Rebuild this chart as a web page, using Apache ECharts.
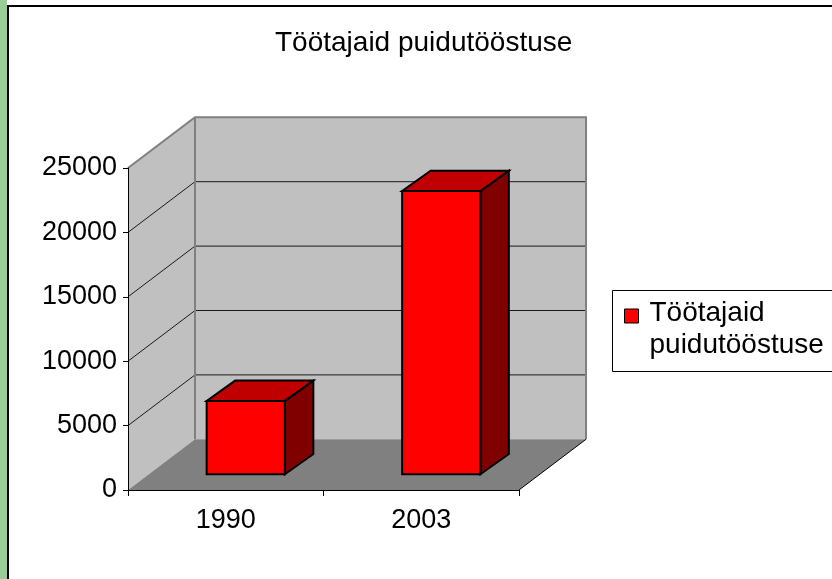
<!DOCTYPE html>
<html>
<head>
<meta charset="utf-8">
<script src="https://cdn.jsdelivr.net/npm/echarts@6/dist/echarts.min.js"></script>
<style>
html,body{margin:0;padding:0;background:#fff;}
#chart{width:832px;height:579px;}
</style>
</head>
<body>
<div id="chart"></div>
<script>
// ---- data ----
const chartTitle = 'Töötajaid puidutööstuse';
const seriesName = 'Töötajaid puidutööstuse';
const categories = ['1990', '2003'];
const values = [5700, 22000];
const yTicks = [0, 5000, 10000, 15000, 20000, 25000];

// ---- styling constants ----
const FONT = "'Liberation Sans', Arial, sans-serif";
const DEPTH = [67, -50.7];        // back-wall offset of the 3D box
const BAR_FRONT = [20, -15.7];    // shift of the bar front face
const BAR_DEPTH = [28.5, -20.3];  // depth of each bar
const BAR_W = 0.4;                // bar width as share of the band

const yMin = yTicks[0], yMax = yTicks[yTicks.length - 1];

function P(p, d) { return [p[0] + d[0], p[1] + d[1]]; }

function renderWalls(params, api) {
  const bw = api.size([1, 0])[0];
  const a = api.coord([0, yMin]);
  const b = api.coord([categories.length - 1, yMin]);
  const x0 = a[0] - bw / 2, x1 = b[0] + bw / 2;
  const y0 = a[1];
  const yT = api.coord([0, yMax])[1];
  const fl = [x0, y0], fr = [x1, y0], tl = [x0, yT];
  const children = [];
  children.push({type: 'polygon', shape: {points: [fl, tl, P(tl, DEPTH), P(fl, DEPTH)]},
    style: {fill: '#c0c0c0', stroke: null}});
  children.push({type: 'polygon', shape: {points: [P(tl, DEPTH), P([x1, yT], DEPTH), P(fr, DEPTH), P(fl, DEPTH)]},
    style: {fill: '#c0c0c0', stroke: null}});
  children.push({type: 'polygon', shape: {points: [fl, fr, P(fr, DEPTH), P(fl, DEPTH)]},
    style: {fill: '#808080', stroke: null}});
  yTicks.forEach(function (v) {
    if (v === yMin || v === yMax) return;
    const y = api.coord([0, v])[1];
    const p = [x0, y];
    children.push({type: 'polyline', shape: {points: [p, P(p, DEPTH), P([x1, y], DEPTH)]},
      style: {stroke: '#1a1a1a', lineWidth: 1, fill: null}});
  });
  children.push({type: 'polyline', shape: {points: [tl, P(tl, DEPTH), P([x1, yT], DEPTH), P(fr, DEPTH)]},
    style: {stroke: '#808080', lineWidth: 2, fill: null}});
  children.push({type: 'line', shape: {x1: x0 + DEPTH[0], y1: yT + DEPTH[1], x2: x0 + DEPTH[0], y2: y0 + DEPTH[1]},
    style: {stroke: '#808080', lineWidth: 2}});
  children.push({type: 'line', shape: {x1: x1, y1: y0, x2: x1 + DEPTH[0], y2: y0 + DEPTH[1]},
    style: {stroke: '#000', lineWidth: 1}});
  return {type: 'group', children: children};
}

function renderBar(params, api) {
  const idx = api.value(0);
  const val = api.value(1);
  const bw = api.size([1, 0])[0] * BAR_W;
  const base = api.coord([idx, yMin]);
  const top = api.coord([idx, val]);
  const xl = base[0] - bw / 2 + BAR_FRONT[0];
  const xr = xl + bw;
  const yb = base[1] + BAR_FRONT[1];
  const yt = top[1] + BAR_FRONT[1];
  const stroke = {stroke: '#000', lineWidth: 2, lineJoin: 'miter'};
  const front = [[xl, yb], [xr, yb], [xr, yt], [xl, yt]];
  const side = [[xr, yb], P([xr, yb], BAR_DEPTH), P([xr, yt], BAR_DEPTH), [xr, yt]];
  const topF = [[xl, yt], [xr, yt], P([xr, yt], BAR_DEPTH), P([xl, yt], BAR_DEPTH)];
  return {type: 'group', children: [
    {type: 'polygon', shape: {points: side}, style: Object.assign({fill: '#800000'}, stroke)},
    {type: 'polygon', shape: {points: topF}, style: Object.assign({fill: '#c00000'}, stroke)},
    {type: 'polygon', shape: {points: front}, style: Object.assign({fill: '#ff0000'}, stroke)}
  ]};
}

const chart = echarts.init(document.getElementById('chart'), null, {renderer: 'canvas'});
chart.setOption({
  animation: false,
  backgroundColor: '#ffffff',
  textStyle: {fontFamily: FONT},
  title: {
    text: chartTitle, left: 275, top: 29, padding: 0,
    textStyle: {fontSize: 28, fontWeight: 'normal', color: '#000', fontFamily: FONT}
  },
  legend: {
    data: [seriesName], left: 624, top: 271, padding: 0,
    icon: 'rect', itemWidth: 14, itemHeight: 14, itemGap: 0,
    itemStyle: {color: '#ff0000', borderColor: '#000', borderWidth: 1},
    formatter: function (n) {
      const parts = n.split(' ');
      return '{e| }\n{a|' + parts[0] + '}\n{a|' + parts.slice(1).join(' ') + '}';
    },
    textStyle: {
      fontSize: 28, lineHeight: 32, color: '#000', fontFamily: FONT,
      rich: {
        a: {fontSize: 28, lineHeight: 32, color: '#000', fontFamily: FONT, padding: [0, 0, 0, 6]},
        e: {fontSize: 10, lineHeight: 26}
      }
    }
  },
  graphic: [
    {type: 'rect', shape: {x: 0, y: 0, width: 7, height: 579}, style: {fill: '#99cc99'}, z: 0},
    {type: 'polyline', shape: {points: [[8, 579], [8, 6], [832, 6]]}, style: {stroke: '#000', lineWidth: 2, fill: null}, z: 0},
    {type: 'rect', shape: {x: 612.5, y: 290.5, width: 240, height: 81}, style: {stroke: '#000', lineWidth: 1, fill: '#fff'}, z: 0}
  ],
  grid: {left: 128, top: 168, width: 391, height: 322, containLabel: false},
  xAxis: {
    type: 'category', data: categories, boundaryGap: true, z: 10,
    axisLine: {show: true, lineStyle: {color: '#000', width: 1}},
    axisTick: {show: true, alignWithLabel: false, length: 6, lineStyle: {color: '#000'}},
    axisLabel: {fontSize: 27, color: '#000', margin: 17, fontFamily: FONT},
    splitLine: {show: false}
  },
  yAxis: {
    type: 'value', min: yMin, max: yMax, interval: yTicks[1] - yTicks[0], z: 10,
    axisLine: {show: true, lineStyle: {color: '#000', width: 1}},
    axisTick: {show: true, length: 5, lineStyle: {color: '#000'}},
    axisLabel: {fontSize: 27, color: '#000', margin: 11, fontFamily: FONT,
      formatter: function (v) { return String(v); }},
    splitLine: {show: false}
  },
  series: [
    {type: 'custom', name: '_walls', renderItem: renderWalls, data: [[0, 0]], clip: false, silent: true, z: 1},
    {type: 'custom', name: seriesName, renderItem: renderBar, clip: false, z: 3,
      itemStyle: {color: '#ff0000'},
      encode: {x: 0, y: 1},
      data: categories.map(function (c, i) { return [i, values[i]]; })}
  ]
});
</script>
</body>
</html>
